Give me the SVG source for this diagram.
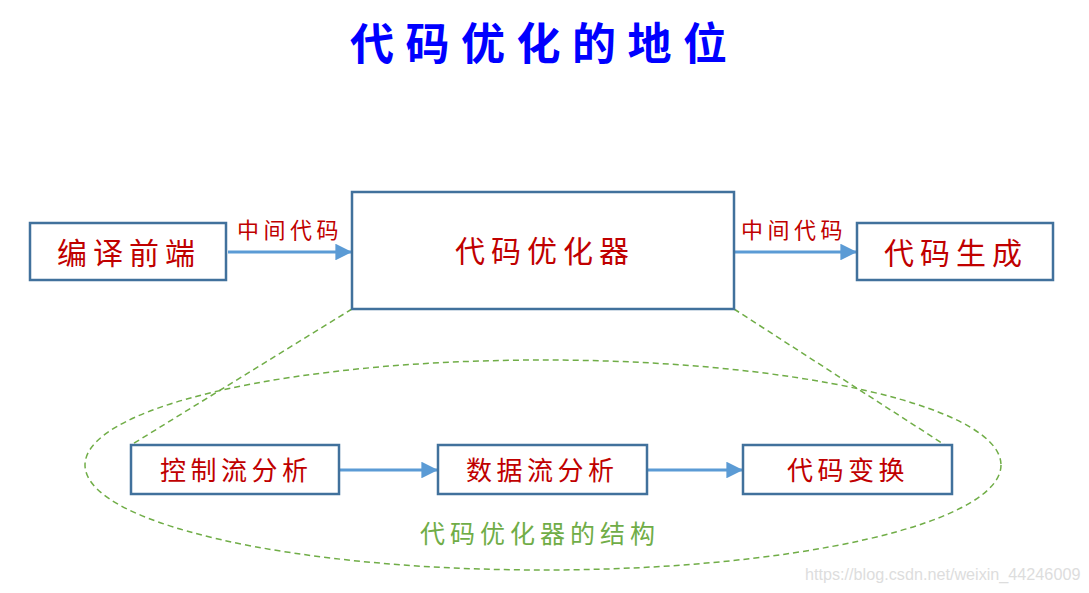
<svg xmlns="http://www.w3.org/2000/svg" width="1089" height="593" viewBox="0 0 1089 593">
<style>
.box{fill:#fff;stroke:#41719C;stroke-width:2.5}
.lbl{font-family:"Noto Sans CJK SC",sans-serif;fill:#C00000}
.big{font-size:30px;letter-spacing:6px}
.mid{font-size:26px;letter-spacing:4.5px}
.sm{font-size:22px;letter-spacing:4.5px}
.arr{stroke:#5B9BD5;stroke-width:3.2;fill:none;marker-end:url(#ah)}
.dash{stroke:#70AD47;stroke-width:1.5;fill:none;stroke-dasharray:6 4}
</style>
<defs>
<marker id="ah" viewBox="0 0 10 10" refX="10" refY="5" markerWidth="5.2" markerHeight="5.2" markerUnits="strokeWidth" orient="auto">
<path d="M0,0 L10,5 L0,10 z" fill="#5B9BD5"/>
</marker>
</defs>
<rect width="1089" height="593" fill="#fff"/>
<text x="350" y="60" font-family="Noto Sans CJK SC,sans-serif" font-size="44" font-weight="bold" letter-spacing="11.5" fill="#0000FF">代码优化的地位</text>
<g id="connectors">
<line class="arr" x1="228" y1="252" x2="352" y2="252"/>
<line class="arr" x1="734" y1="252" x2="857" y2="252"/>
<line class="arr" x1="339" y1="470" x2="438" y2="470"/>
<line class="arr" x1="647" y1="470" x2="743" y2="470"/>
<line class="dash" x1="352" y1="309" x2="131" y2="445"/>
<line class="dash" x1="734" y1="309" x2="945" y2="445"/>
<ellipse class="dash" cx="543" cy="465" rx="458" ry="105"/>
<text class="lbl sm" x="237" y="238">中间代码</text>
<text class="lbl sm" x="741" y="238">中间代码</text>
</g>
<g id="frontend">
<rect class="box" x="30" y="223" width="196" height="57"/>
<text class="lbl big" x="57" y="264">编译前端</text>
</g>
<g id="optimizer">
<rect class="box" x="352" y="192" width="382" height="117"/>
<text class="lbl big" x="455" y="262">代码优化器</text>
</g>
<g id="codegen">
<rect class="box" x="857" y="223" width="196" height="57"/>
<text class="lbl big" x="884" y="264">代码生成</text>
</g>
<g id="cfa">
<rect class="box" x="131" y="445" width="208" height="49"/>
<text class="lbl mid" x="160" y="480">控制流分析</text>
</g>
<g id="dfa">
<rect class="box" x="438" y="445" width="209" height="49"/>
<text class="lbl mid" x="466" y="480">数据流分析</text>
</g>
<g id="transform">
<rect class="box" x="743" y="445" width="209" height="49"/>
<text class="lbl mid" x="787" y="480">代码变换</text>
</g>
<g id="structure">
<text x="420" y="543" font-family="Noto Sans CJK SC,sans-serif" font-size="25" letter-spacing="5" fill="#70AD47">代码优化器的结构</text>
</g>
<text x="805" y="580" font-family="Liberation Sans,sans-serif" font-size="16.2" fill="#DDDDDD">https://blog.csdn.net/weixin_44246009</text>
</svg>
